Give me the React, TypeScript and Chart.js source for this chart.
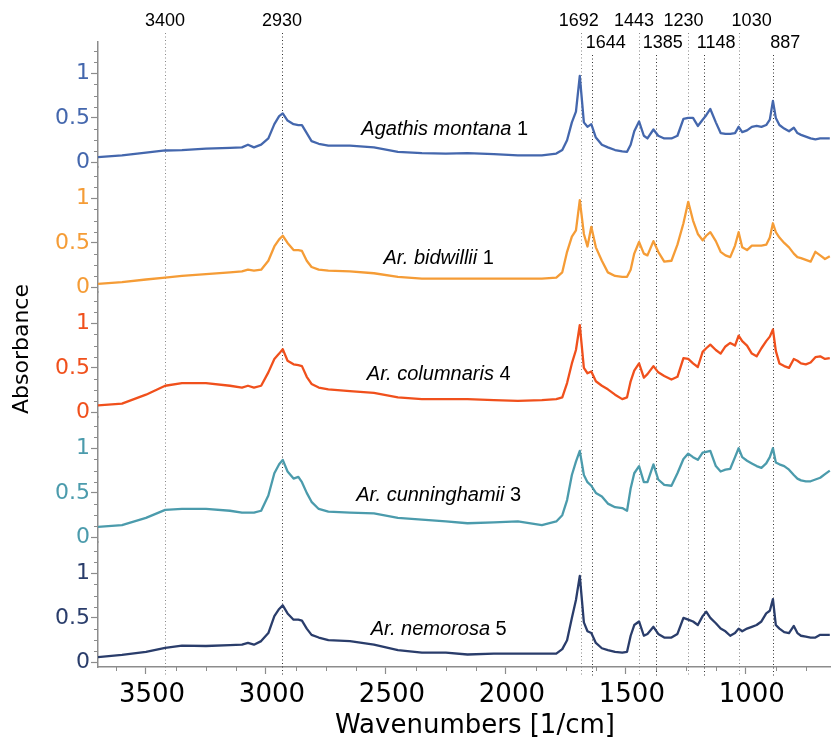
import React, { useEffect, useRef } from 'react';
import { Chart, registerables } from 'chart.js';

Chart.register(...registerables);

// ---- data ----
const wavenumbers = [
  3700, 3600, 3500, 3420, 3350, 3250, 3150, 3100, 3075, 3050,
  3020, 2990, 2965, 2945, 2930, 2910, 2885, 2865, 2850, 2830,
  2810, 2780, 2740, 2650, 2550, 2450, 2350, 2250, 2160, 2050,
  1950, 1850, 1790, 1765, 1745, 1725, 1708, 1692, 1675, 1660,
  1644, 1625, 1600, 1575, 1545, 1515, 1495, 1480, 1465, 1445,
  1425, 1410, 1385, 1365, 1340, 1310, 1285, 1260, 1240, 1220,
  1200, 1180, 1165, 1148, 1125, 1105, 1085, 1065, 1045, 1030,
  1015, 995, 975, 955, 935, 915, 900, 887, 875, 860,
  840, 820, 800, 785, 770, 750, 730, 710, 690, 670,
  650,
];

const montana = [
  0.06, 0.08, 0.11, 0.135, 0.14, 0.155, 0.165, 0.17, 0.2, 0.17,
  0.2, 0.27, 0.43, 0.52, 0.55, 0.47, 0.43, 0.42, 0.42, 0.33,
  0.24, 0.21, 0.19, 0.19, 0.17, 0.12, 0.105, 0.1, 0.105, 0.095,
  0.08, 0.08, 0.1, 0.14, 0.25, 0.45, 0.57, 0.97, 0.45, 0.4,
  0.43, 0.28, 0.2, 0.17, 0.14, 0.125, 0.12, 0.2, 0.35, 0.46,
  0.3, 0.27, 0.37, 0.3, 0.27, 0.27, 0.3, 0.49, 0.5, 0.5,
  0.41, 0.48, 0.53, 0.6, 0.45, 0.33, 0.32, 0.32, 0.33, 0.4,
  0.34, 0.36, 0.4, 0.41, 0.4, 0.42, 0.48, 0.69, 0.5, 0.42,
  0.38, 0.35, 0.39, 0.33, 0.31, 0.29, 0.27, 0.26, 0.27, 0.27,
  0.27,
];

const bidwillii = [
  0.04, 0.06, 0.09, 0.11, 0.13, 0.15, 0.17, 0.18, 0.2, 0.19,
  0.2, 0.3, 0.46, 0.54, 0.58, 0.5, 0.42, 0.42, 0.41, 0.3,
  0.23, 0.2, 0.19, 0.18, 0.16, 0.12, 0.1, 0.1, 0.1, 0.1,
  0.1, 0.1, 0.11, 0.17, 0.4, 0.57, 0.64, 0.98, 0.6, 0.46,
  0.68, 0.45, 0.3, 0.17, 0.13, 0.12, 0.12, 0.2, 0.38, 0.51,
  0.38, 0.36, 0.52, 0.4, 0.29, 0.3, 0.48, 0.72, 0.96, 0.75,
  0.6, 0.53, 0.58, 0.62, 0.52, 0.4, 0.36, 0.34, 0.47, 0.62,
  0.45, 0.42, 0.47, 0.47, 0.47, 0.48, 0.56, 0.72, 0.62, 0.56,
  0.5, 0.45, 0.38, 0.34, 0.33, 0.31, 0.29, 0.4, 0.36, 0.32,
  0.35,
];

const columnaris = [
  0.08, 0.1, 0.2, 0.3, 0.33, 0.33, 0.3, 0.28, 0.3, 0.28,
  0.3, 0.45, 0.6, 0.66, 0.71, 0.58, 0.54, 0.53, 0.52, 0.4,
  0.32, 0.28, 0.26, 0.24, 0.22, 0.17, 0.15, 0.15, 0.15, 0.14,
  0.13, 0.14, 0.15, 0.17, 0.33, 0.55, 0.7, 0.98, 0.5, 0.44,
  0.46, 0.35, 0.3, 0.26, 0.2, 0.15, 0.17, 0.35, 0.47, 0.55,
  0.39, 0.43, 0.52, 0.45, 0.41, 0.37, 0.4, 0.61, 0.6, 0.55,
  0.51, 0.68, 0.72, 0.76, 0.7, 0.66, 0.74, 0.78, 0.75, 0.86,
  0.8, 0.75, 0.66, 0.63, 0.72, 0.8, 0.85, 0.93, 0.69, 0.55,
  0.52, 0.5, 0.6, 0.58, 0.55, 0.54, 0.56, 0.62, 0.63, 0.6,
  0.61,
];

const cunninghamii = [
  0.12, 0.14, 0.22, 0.31, 0.32, 0.32, 0.3, 0.28, 0.28, 0.28,
  0.3, 0.47, 0.72, 0.82, 0.87, 0.74, 0.66, 0.68, 0.62, 0.5,
  0.4, 0.32, 0.29, 0.28, 0.27, 0.22, 0.2, 0.18, 0.16, 0.17,
  0.18, 0.14, 0.18, 0.25, 0.42, 0.7, 0.85, 0.97, 0.7, 0.62,
  0.58, 0.5, 0.46, 0.38, 0.34, 0.33, 0.3, 0.55, 0.72, 0.8,
  0.62, 0.62, 0.82, 0.65, 0.59, 0.58, 0.72, 0.88, 0.94, 0.9,
  0.87, 0.95, 0.96, 0.97, 0.8, 0.74, 0.76, 0.77, 0.9, 1.0,
  0.9, 0.86, 0.83, 0.8, 0.78, 0.83, 0.9, 1.0, 0.84, 0.82,
  0.8, 0.76, 0.7, 0.66, 0.64, 0.63, 0.63, 0.65, 0.67, 0.71,
  0.75,
];

const nemorosa = [
  0.06, 0.085, 0.12, 0.165, 0.19, 0.185, 0.195, 0.2, 0.22, 0.2,
  0.24, 0.33, 0.52, 0.6, 0.64, 0.55, 0.48, 0.48, 0.47, 0.38,
  0.31, 0.28, 0.25, 0.24, 0.2, 0.14, 0.11, 0.11, 0.09, 0.1,
  0.1, 0.1, 0.1, 0.15, 0.25, 0.5, 0.7, 0.97, 0.45, 0.35,
  0.33, 0.22, 0.16, 0.14, 0.12, 0.11, 0.12, 0.3, 0.42, 0.46,
  0.3, 0.32, 0.4, 0.32, 0.28, 0.28, 0.32, 0.5, 0.48, 0.46,
  0.42, 0.52, 0.57, 0.5, 0.44, 0.38, 0.35, 0.3, 0.33, 0.38,
  0.35, 0.38, 0.4, 0.42, 0.46, 0.55, 0.58, 0.71, 0.42, 0.38,
  0.34, 0.33, 0.41, 0.33, 0.3, 0.29, 0.28, 0.28, 0.31, 0.31,
  0.31,
];

const seriesNames = ['Agathis montana', 'Ar. bidwillii', 'Ar. columnaris', 'Ar. cunninghamii', 'Ar. nemorosa'];
const seriesNumbers = ['1', '1', '4', '3', '5'];
const seriesLabelWavenumber = [2255, 2280, 2280, 2280, 2280];
const seriesLabelValue = [0.37, 0.33, 0.43, 0.47, 0.37];

const peakLabels = ['3400', '2930', '1692', '1644', '1443', '1385', '1230', '1148', '1030', '887'];
const peakLinePositions = [3421, 2933, 1688, 1642, 1445, 1375, 1239, 1174, 1030, 886];
const peakLabelRow = [0, 0, 0, 1, 0, 1, 0, 1, 0, 1];

const xTickValues = [3500, 3000, 2500, 2000, 1500, 1000];
const yTickValues = [0, 0.5, 1];

const COLORS = ['#4467ad', '#f59c36', '#f0501c', '#4b9bac', '#2a3d6b'];
const AXIS_GREY = '#8c8c8c';
const PANEL_KEYS = ['y0', 'y1', 'y2', 'y3', 'y4'];

export default function App() {
  const canvasRef = useRef<HTMLCanvasElement | null>(null);

  useEffect(() => {
    document.body.style.margin = '0';
    const canvas = canvasRef.current;
    if (!canvas) return;

    const seriesValues = [montana, bidwillii, columnaris, cunninghamii, nemorosa];

    const datasets = seriesValues.map((vals, i) => ({
      label: seriesNames[i],
      data: wavenumbers.map((w, j) => ({ x: w, y: vals[j] })),
      borderColor: COLORS[i],
      backgroundColor: COLORS[i],
      borderWidth: 2.3,
      pointRadius: 0,
      tension: 0,
      fill: false,
      yAxisID: PANEL_KEYS[i],
      borderJoinStyle: 'round' as const,
    }));

    const scales: any = {
      x: {
        type: 'linear',
        reverse: true,
        min: 645,
        max: 3700,
        afterBuildTicks: (s: any) => {
          s.ticks = xTickValues.map((v) => ({ value: v }));
        },
        afterFit: (s: any) => {
          s.height = 75;
        },
        grid: { drawOnChartArea: false, tickLength: 7, tickColor: AXIS_GREY, tickWidth: 1.2 },
        border: { color: AXIS_GREY, width: 1.5 },
        ticks: {
          color: '#000',
          font: { family: 'DejaVu Sans', size: 26 },
          padding: 6,
          labelOffset: 6,
          autoSkip: false,
          maxRotation: 0,
          callback: (v: any) => String(v),
        },
      },
    };

    PANEL_KEYS.forEach((k, i) => {
      scales[k] = {
        type: 'linear',
        position: 'left',
        stack: 'panels',
        stackWeight: 1,
        weight: 5 - i,
        min: -0.05,
        max: 1.35,
        afterBuildTicks: (s: any) => {
          s.ticks = yTickValues.map((v) => ({ value: v }));
        },
        afterFit: (s: any) => {
          s.width = 98;
        },
        grid: { drawOnChartArea: false, tickLength: 7, tickColor: AXIS_GREY, tickWidth: 1.2 },
        border: { color: AXIS_GREY, width: 1.5 },
        ticks: {
          color: COLORS[i],
          font: { family: 'DejaVu Sans', size: 22 },
          padding: 1,
          callback: (v: any) => String(v),
        },
      };
    });

    const decorations = {
      id: 'decorations',
      beforeDatasetsDraw(chart: any) {
        const ctx = chart.ctx;
        const xs = chart.scales.x;
        ctx.save();
        ctx.lineWidth = 1;
        ctx.setLineDash([1, 2.5]);
        peakLinePositions.forEach((p, i) => {
          const x = Math.round(xs.getPixelForValue(p)) + 0.5;
          const top = peakLabelRow[i] === 0 ? 33 : 55;
          ctx.strokeStyle = i % 2 === 1 ? '#333' : '#888';
          ctx.beginPath();
          ctx.moveTo(x, top);
          ctx.lineTo(x, xs.top + 9);
          ctx.stroke();
        });
        ctx.restore();
      },
      afterDraw(chart: any) {
        const ctx = chart.ctx;
        const xs = chart.scales.x;
        ctx.save();
        // minor ticks
        ctx.strokeStyle = AXIS_GREY;
        ctx.lineWidth = 1;
        PANEL_KEYS.forEach((k) => {
          const s = chart.scales[k];
          for (let v = 0.125; v < 1.35; v += 0.125) {
            if (Math.abs(v - 0.5) < 1e-6 || Math.abs(v - 1) < 1e-6) continue;
            const y = Math.round(s.getPixelForValue(v)) + 0.5;
            ctx.beginPath();
            ctx.moveTo(s.right - 4, y);
            ctx.lineTo(s.right, y);
            ctx.stroke();
          }
        });
        for (let v = 3625; v >= 700; v -= 125) {
          if (v % 500 === 0) continue;
          const x = Math.round(xs.getPixelForValue(v)) + 0.5;
          ctx.beginPath();
          ctx.moveTo(x, xs.top);
          ctx.lineTo(x, xs.top + 4);
          ctx.stroke();
        }

        // peak labels
        ctx.fillStyle = '#000';
        ctx.font = '18px "Liberation Sans", Arial, sans-serif';
        ctx.textAlign = 'center';
        ctx.textBaseline = 'middle';
        const labelShift = [0, 0, -2, 14, -5, 7, -5, 12, 13, 12];
        peakLabels.forEach((t, i) => {
          const x = xs.getPixelForValue(peakLinePositions[i]) + labelShift[i];
          const y = peakLabelRow[i] === 0 ? 21 : 43;
          ctx.fillText(t, x, y);
        });

        // species labels
        seriesNames.forEach((name, i) => {
          const s = chart.scales[PANEL_KEYS[i]];
          const cx = xs.getPixelForValue(seriesLabelWavenumber[i]);
          const cy = s.getPixelForValue(seriesLabelValue[i]);
          const italic = 'italic 20px "Liberation Sans", Arial, sans-serif';
          const normal = '20px "Liberation Sans", Arial, sans-serif';
          ctx.font = italic;
          const w1 = ctx.measureText(name + ' ').width;
          ctx.font = normal;
          const w2 = ctx.measureText(seriesNumbers[i]).width;
          const start = cx - (w1 + w2) / 2;
          ctx.textAlign = 'left';
          ctx.font = italic;
          ctx.fillText(name + ' ', start, cy);
          ctx.font = normal;
          ctx.fillText(seriesNumbers[i], start + w1, cy);
        });

        // axis titles
        ctx.textAlign = 'center';
        ctx.font = '26px "DejaVu Sans", sans-serif';
        ctx.fillText('Wavenumbers [1/cm]', 475, 726);
        ctx.save();
        ctx.translate(22, 349);
        ctx.rotate(-Math.PI / 2);
        ctx.font = '22px "DejaVu Sans", sans-serif';
        ctx.fillText('Absorbance', 0, 0);
        ctx.restore();
        ctx.restore();
      },
    };

    const chart = new Chart(canvas, {
      type: 'line',
      data: { datasets },
      options: {
        animation: false,
        responsive: false,
        maintainAspectRatio: false,
        devicePixelRatio: 1,
        events: [],
        layout: { padding: { top: 42, right: 0, left: 0, bottom: 0 } },
        plugins: { legend: { display: false }, tooltip: { enabled: false } },
        scales,
      },
      plugins: [decorations],
    } as any);

    return () => chart.destroy();
  }, []);

  return (
    <div style={{ width: 831, height: 742, background: '#fff' }}>
      <canvas ref={canvasRef} width={831} height={742} style={{ display: 'block' }} />
    </div>
  );
}
